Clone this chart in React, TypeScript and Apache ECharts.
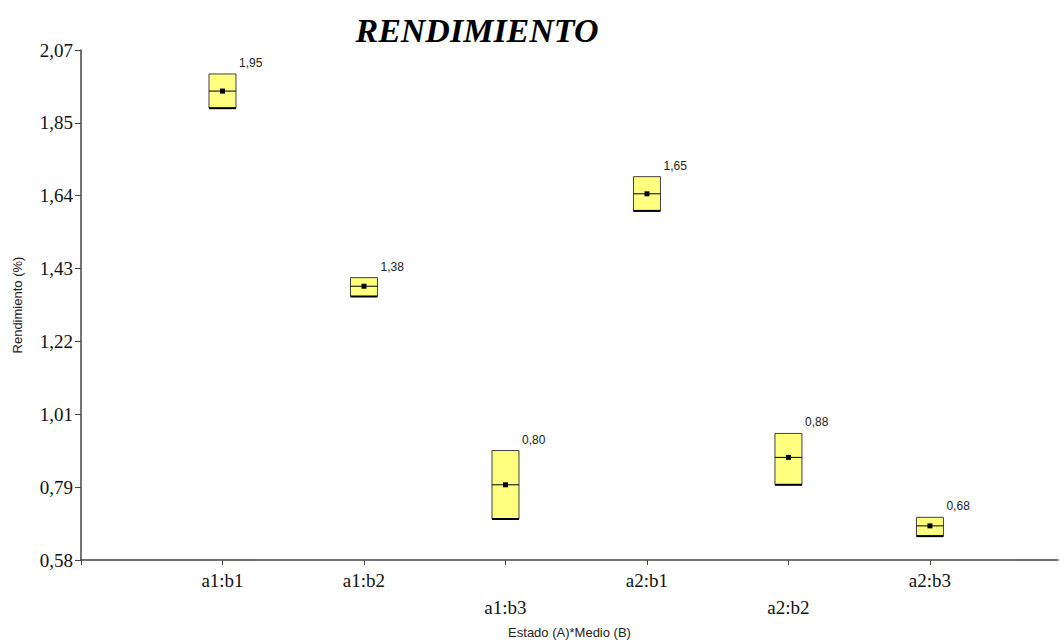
import React, { useEffect, useRef } from "react";
import * as echarts from "echarts";

const categories = ["a1:b1", "a1:b2", "a1:b3", "a2:b1", "a2:b2", "a2:b3"];
const means = [1.95, 1.38, 0.8, 1.65, 0.88, 0.68];
const lowers = [1.9, 1.35, 0.7, 1.6, 0.8, 0.65];
const uppers = [2.0, 1.405, 0.9, 1.7, 0.95, 0.705];
const yTickValues = [0.58, 0.7929, 1.0057, 1.2186, 1.4314, 1.6443, 1.8571, 2.07];
const yTickLabels = ["0,58", "0,79", "1,01", "1,22", "1,43", "1,64", "1,85", "2,07"];
const lowRow = [false, false, true, false, true, false];

const fmt = (v: number) => v.toFixed(2).replace(".", ",");

export default function App() {
  const ref = useRef<HTMLDivElement>(null);
  useEffect(() => {
    if (!ref.current) return;
    const chart = echarts.init(ref.current, null, { renderer: "svg" });
    const data = categories.map((c, i) => [i + 1, lowers[i], uppers[i], means[i]]);
    chart.setOption({
      animation: false,
      backgroundColor: "#fff",
      grid: { left: 81, top: 50, right: 2, bottom: 83 },
      graphic: [
        {
          type: "text",
          x: 477,
          y: 30,
          style: {
            text: "RENDIMIENTO",
            font: "italic bold 34px 'Liberation Serif', 'Times New Roman', serif",
            fill: "#000",
            textAlign: "center",
            textVerticalAlign: "middle",
          },
        },
      ],
      xAxis: {
        type: "value",
        min: 0,
        max: 6.905,
        interval: 1,
        splitLine: { show: false },
        axisLine: { lineStyle: { color: "#444", width: 1.5 } },
        axisTick: { length: 5, lineStyle: { color: "#444" } },
        axisLabel: {
          showMaxLabel: false,
          margin: 7,
          fontFamily: "'Liberation Serif', serif",
          fontSize: 19,
          lineHeight: 27,
          color: "#111",
          formatter: (v: number) => {
            if (v < 1 || v > 6 || Math.round(v) !== v) return "";
            const i = v - 1;
            return (lowRow[i] ? "\n" : "") + categories[i];
          },
        },
        name: "Estado (A)*Medio (B)",
        nameLocation: "middle",
        nameGap: 65,
        nameTextStyle: { fontFamily: "'Liberation Sans', Arial, sans-serif", fontSize: 13, color: "#222" },
      },
      yAxis: {
        type: "value",
        min: 0.58,
        max: 2.07,
        splitLine: { show: false },
        axisLine: { show: true, lineStyle: { color: "#444", width: 1.5 } },
        axisTick: { show: true, length: 6, customValues: yTickValues, lineStyle: { color: "#444" } },
        axisLabel: {
          customValues: yTickValues,
          margin: 8,
          fontFamily: "'Liberation Serif', serif",
          fontSize: 19,
          color: "#111",
          formatter: (v: number) => {
            let best = 0;
            yTickValues.forEach((t, i) => {
              if (Math.abs(t - v) < Math.abs(yTickValues[best] - v)) best = i;
            });
            return yTickLabels[best];
          },
        },
        name: "Rendimiento (%)",
        nameLocation: "middle",
        nameRotate: 90,
        nameGap: 57,
        nameTextStyle: { fontFamily: "'Liberation Sans', Arial, sans-serif", fontSize: 13, color: "#222" },
      },
      series: [
        {
          type: "custom",
          data,
          encode: { x: 0, y: [1, 2, 3] },
          renderItem: (params: any, api: any) => {
            const x = api.value(0);
            const lo = api.value(1);
            const hi = api.value(2);
            const m = api.value(3);
            const pTop = api.coord([x, hi]);
            const pBot = api.coord([x, lo]);
            const pM = api.coord([x, m]);
            const w = 27;
            const l = pTop[0] - w / 2;
            return {
              type: "group",
              children: [
                {
                  type: "rect",
                  shape: { x: l, y: pTop[1], width: w, height: pBot[1] - pTop[1] },
                  style: { fill: "#FFFF80", stroke: "#404040", lineWidth: 1 },
                },
                {
                  type: "line",
                  shape: { x1: l, y1: pBot[1], x2: l + w, y2: pBot[1] },
                  style: { stroke: "#000", lineWidth: 2 },
                },
                {
                  type: "line",
                  shape: { x1: l, y1: pM[1], x2: l + w, y2: pM[1] },
                  style: { stroke: "#000", lineWidth: 1 },
                },
                {
                  type: "rect",
                  shape: { x: pM[0] - 2.5, y: pM[1] - 2.5, width: 5, height: 5 },
                  style: { fill: "#000" },
                },
                {
                  type: "text",
                  x: l + w + 3,
                  y: pTop[1] - 5,
                  style: {
                    text: fmt(m),
                    font: "12px 'Liberation Sans', Arial, sans-serif",
                    fill: "#222",
                    textAlign: "left",
                    textVerticalAlign: "bottom",
                  },
                },
              ],
            };
          },
        },
      ],
    });
    return () => chart.dispose();
  }, []);
  return (
    <div
      ref={ref}
      style={{ position: "fixed", left: 0, top: 0, width: 1060, height: 644 }}
    />
  );
}
